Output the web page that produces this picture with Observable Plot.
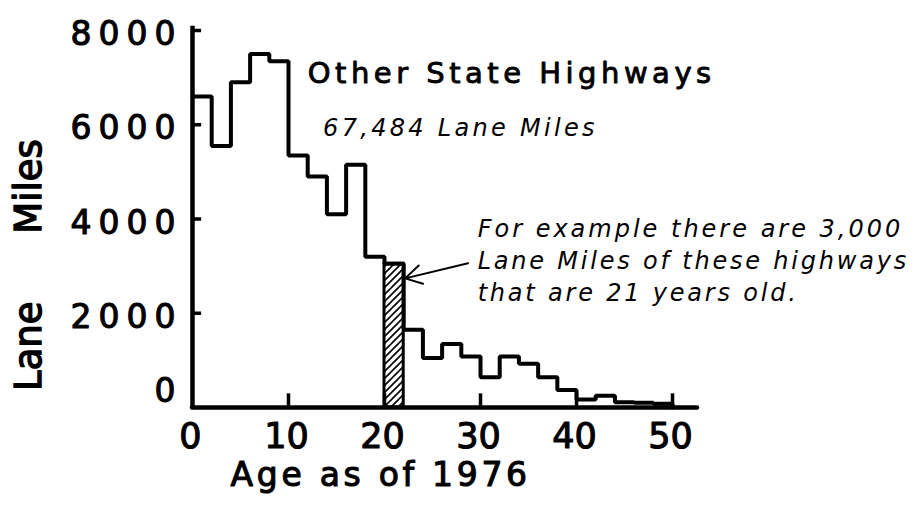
<!DOCTYPE html>
<html>
<head>
<meta charset="utf-8">
<script src="https://cdn.jsdelivr.net/npm/d3@7"></script>
<script src="https://cdn.jsdelivr.net/npm/@observablehq/plot@0.6"></script>
<style>
  html, body { margin: 0; padding: 0; background: #fff; }
</style>
</head>
<body>
<div id="chart"></div>
<script>
// ---- data ----
const binStart = [0, 2, 4, 6, 8, 10, 12, 14, 16, 18, 20, 22, 24, 26, 28, 30, 32, 34, 36, 38, 40, 42, 44, 46, 48];
const laneMiles = [6600, 5550, 6900, 7500, 7350, 5350, 4900, 4100, 5150, 3200, 3050, 1650, 1050, 1350, 1080, 640, 1080, 930, 640, 370, 170, 250, 110, 100, 80];
const binWidth = 2;
const highlightAge = 20; // bin 20-22 ("21 years old")
const xTicks = [0, 10, 20, 30, 40, 50];
const yTicks = [0, 2000, 4000, 6000, 8000];
const titleText = "Other State Highways";
const subtitleText = "67,484 Lane Miles";
const noteLines = ["For example there are 3,000", "Lane Miles of these highways", "that are 21 years old."];
const xLabel = "Age as of 1976";
const yLabelWords = ["Lane", "Miles"];

// ---- derived tables ----
const lastEnd = binStart[binStart.length - 1] + binWidth;
const steps = binStart.map((x, i) => ({x, y: laneMiles[i]}));
steps.push({x: lastEnd, y: laneMiles[laneMiles.length - 1]});
steps.push({x: lastEnd, y: 0});
const hi = binStart.indexOf(highlightAge);
const hatched = [{x1: binStart[hi], x2: binStart[hi] + binWidth, y: laneMiles[hi]}];

const font = "DejaVu Sans";
const heavy = {fill: "#000", stroke: "#000", strokeWidth: 1.1};

const chart = Plot.plot({
  width: 913,
  height: 505,
  marginLeft: 192,
  marginRight: 216,
  marginTop: 30,
  marginBottom: 98,
  x: {domain: [0, 52.6], axis: null},
  y: {domain: [0, 8000], axis: null},
  style: {fontFamily: font, background: "#fff", color: "#000", overflow: "visible"},
  marks: [
    // hatched bar
    Plot.rectY(hatched, {x1: "x1", x2: "x2", y: "y", fill: "url(#hatch)", stroke: "#000", strokeWidth: 3}),
    // step outline
    Plot.line(steps, {x: "x", y: "y", curve: "step-after", stroke: "#000", strokeWidth: 4, strokeLinejoin: "miter"}),
    // axes
    Plot.ruleY([0], {x1: 0, x2: 52.6, stroke: "#000", strokeWidth: 4.5, strokeLinecap: "round"}),
    Plot.ruleX([0], {y1: 0, y2: 8090, stroke: "#000", strokeWidth: 4.5}),
    Plot.ruleY(yTicks.filter(d => d > 0), {x1: 0, x2: 0.95, stroke: "#000", strokeWidth: 3.5}),
    Plot.ruleX(xTicks.filter(d => d > 0), {y1: 0, y2: 290, stroke: "#000", strokeWidth: 3.5}),
    // tick labels
    Plot.text(yTicks.filter(d => d > 0), {...heavy, x: 0, y: d => d, text: d => String(d), textAnchor: "end", dx: -10, dy: 4, fontSize: 33}),
    Plot.text(yTicks.filter(d => d === 0), {...heavy, x: 0, y: d => d, text: d => String(d), textAnchor: "end", dx: -10, dy: -16, fontSize: 33}),
    Plot.text(xTicks, {...heavy, x: d => d, y: 0, text: d => String(d), dx: -2, dy: 29, fontSize: 35}),
    // axis titles
    Plot.text([xLabel], {...heavy, x: 19.6, y: 0, text: d => d, dy: 68, fontSize: 33}),
    Plot.text([yLabelWords[1]], {...heavy, strokeWidth: 1.4, x: -17, y: 4690, text: d => d, rotate: -90, fontSize: 37}),
    Plot.text([yLabelWords[0]], {...heavy, strokeWidth: 1.4, x: -17, y: 1300, text: d => d, rotate: -90, fontSize: 37}),
    // title and subtitle
    Plot.text([titleText], {...heavy, strokeWidth: 0.9, x: 12.0, y: 7090, text: d => d, textAnchor: "start", fontSize: 29}),
    Plot.text([subtitleText], {x: 13.6, y: 5920, text: d => d, textAnchor: "start", fontSize: 24, fontStyle: "italic", fill: "#000"}),
    // annotation
    Plot.text(noteLines, {x: 29.7, y: (d, i) => 3777 - i * 679, text: d => d, textAnchor: "start", fontSize: 24, fontStyle: "italic", fill: "#000"}),
    Plot.arrow([{x1: 28.7, y1: 3060, x2: 22.15, y2: 2740}], {x1: "x1", y1: "y1", x2: "x2", y2: "y2", stroke: "#000", strokeWidth: 2, headLength: 14, bend: false})
  ]
});

const svg = d3.select(chart);

// letter spacing per text (hand-lettered look of the original)
const spacing = new Map([
  [titleText, 4.5], [subtitleText, 3.3], [xLabel, 3.7],
  [noteLines[0], 3.0], [noteLines[1], 2.8], [noteLines[2], 2.8]
]);
const yTickStrings = yTicks.map(String);
svg.selectAll("text").each(function() {
  const t = this.textContent;
  if (spacing.has(t)) this.setAttribute("letter-spacing", spacing.get(t));
  else if (yTickStrings.includes(t) && this.closest('[text-anchor="end"]')) this.setAttribute("letter-spacing", 7);
});

// hatch pattern definition
const defs = svg.insert("defs", ":first-child");
const pat = defs.append("pattern")
  .attr("id", "hatch")
  .attr("patternUnits", "userSpaceOnUse")
  .attr("width", 7)
  .attr("height", 7);
pat.append("rect").attr("width", 7).attr("height", 7).attr("fill", "#fff");
pat.append("path")
  .attr("d", "M-1,1 l2,-2 M0,7 l7,-7 M6,8 l2,-2")
  .attr("stroke", "#000")
  .attr("stroke-width", 1.6);

document.getElementById("chart").appendChild(chart);
</script>
</body>
</html>
